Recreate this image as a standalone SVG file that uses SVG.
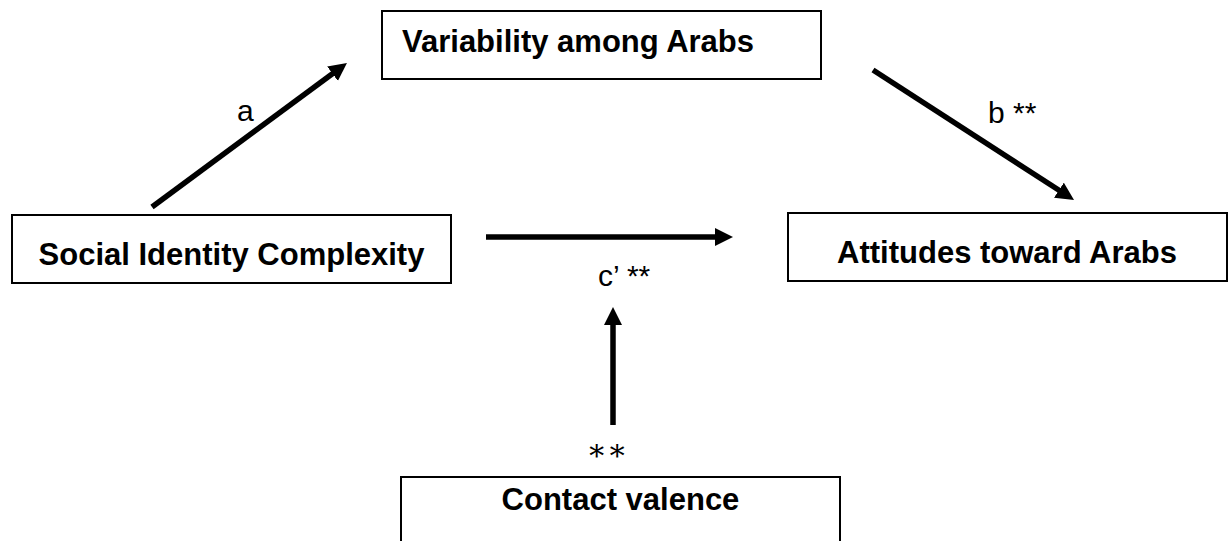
<svg xmlns="http://www.w3.org/2000/svg" width="1230" height="541" viewBox="0 0 1230 541">
  <style>
    .box { fill: #ffffff; stroke: #000000; stroke-width: 2; }
    .title { font-family: "Liberation Sans", Arial, sans-serif; font-weight: bold; font-size: 31px; fill: #000000; }
    .lbl { font-family: "Liberation Sans", Arial, sans-serif; font-size: 30px; fill: #000000; }
    .star { font-family: "DejaVu Serif", "Liberation Serif", serif; font-size: 30px; fill: #000000; }
    .conn { stroke: #000000; stroke-width: 5.5; fill: none; marker-end: url(#arrow); }
  </style>
  <defs>
    <marker id="arrow" markerUnits="userSpaceOnUse" markerWidth="20" markerHeight="20" refX="2" refY="9" orient="auto">
      <path d="M0,0 L18,9 L0,18 Z" fill="#000000"/>
    </marker>
  </defs>
  <rect width="1230" height="541" fill="#ffffff"/>

  <g id="node-variability">
    <rect class="box" x="382" y="11" width="439" height="68"/>
    <text class="title" x="402" y="52">Variability among Arabs</text>
  </g>
  <g id="node-sic">
    <rect class="box" x="12" y="215" width="439" height="68"/>
    <text class="title" x="231.5" y="265" text-anchor="middle">Social Identity Complexity</text>
  </g>
  <g id="node-attitudes">
    <rect class="box" x="788" y="213" width="439" height="68"/>
    <text class="title" x="1007" y="263" text-anchor="middle">Attitudes toward Arabs</text>
  </g>
  <g id="node-contact">
    <rect class="box" x="401" y="477" width="439" height="80"/>
    <text class="title" x="620.5" y="510" text-anchor="middle">Contact valence</text>
  </g>

  <g id="connectors">
    <line class="conn" x1="152" y1="207" x2="334.1" y2="72.5"/>
    <line class="conn" x1="873" y1="70" x2="1060.6" y2="191.3"/>
    <line class="conn" x1="486" y1="237" x2="717" y2="237"/>
    <line class="conn" x1="613" y1="425" x2="613" y2="323"/>
  </g>

  <g id="labels">
    <text class="lbl" x="237" y="121">a</text>
    <text class="lbl" x="988" y="123">b **</text>
    <text class="lbl" x="598" y="286">c’ **</text>
    <text class="star" x="607" y="460" text-anchor="middle">∗∗</text>
  </g>
</svg>
